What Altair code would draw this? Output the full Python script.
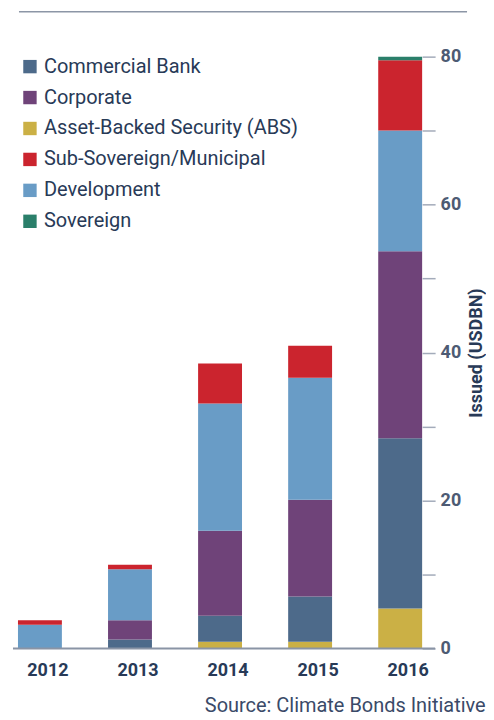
import altair as alt
import pandas as pd

years = ["2012", "2013", "2014", "2015", "2016"]
categories = ["Commercial Bank", "Corporate", "Asset-Backed Security (ABS)",
              "Sub-Sovereign/Municipal", "Development", "Sovereign"]
colors = ["#4d6a8a", "#6f4379", "#cbb045", "#cb242e", "#699cc6", "#2a7f6a"]
stack_order = ["Asset-Backed Security (ABS)", "Commercial Bank", "Corporate",
               "Development", "Sub-Sovereign/Municipal", "Sovereign"]

abs_values = [0.0, 0.0, 0.9, 0.9, 5.4]
commercial_bank = [0.0, 1.2, 3.5, 6.1, 23.0]
corporate = [0.0, 2.6, 11.5, 13.1, 25.3]
development = [3.2, 6.9, 17.2, 16.5, 16.3]
sub_sovereign = [0.6, 0.6, 5.4, 4.3, 9.5]
sovereign = [0.0, 0.0, 0.0, 0.0, 0.5]

series = {
    "Asset-Backed Security (ABS)": abs_values,
    "Commercial Bank": commercial_bank,
    "Corporate": corporate,
    "Development": development,
    "Sub-Sovereign/Municipal": sub_sovereign,
    "Sovereign": sovereign,
}

rows = []
for cat, vals in series.items():
    for yr, v in zip(years, vals):
        rows.append({"Year": yr, "Type": cat, "Value": v, "Order": stack_order.index(cat)})
df = pd.DataFrame(rows)

FONT = "Roboto"
W, H = 405, 593

bars = alt.Chart(df).mark_bar(stroke=None).encode(
    x=alt.X("Year:N", sort=years,
            scale=alt.Scale(paddingInner=0.5125, paddingOuter=0),
            axis=alt.Axis(title=None, domain=False, ticks=False, labelAngle=0,
                          labelFont=FONT, labelFontSize=18, labelFontWeight="bold",
                          labelColor="#283a57", labelPadding=13, labelOffset=8)),
    y=alt.Y("Value:Q", stack="zero",
            scale=alt.Scale(domain=[0, 80], nice=False),
            axis=alt.Axis(orient="right", title="Issued (USDBN)",
                          values=list(range(0, 81, 10)),
                          labelExpr="datum.value % 20 == 0 ? datum.label : ''",
                          domain=False, grid=False,
                          tickSize=13, tickColor="#a3abba", tickWidth=1.5,
                          labelFont=FONT, labelFontSize=18, labelFontWeight="bold",
                          labelColor="#4d5b73", labelPadding=5,
                          titleFont=FONT, titleFontSize=18, titleFontWeight="bold",
                          titleColor="#283a57", titleAngle=270, titlePadding=25)),
    color=alt.Color("Type:N",
                    scale=alt.Scale(domain=categories, range=colors),
                    legend=alt.Legend(title=None, orient="none", legendX=2, legendY=0,
                                      symbolType="square", symbolSize=180,
                                      symbolStrokeWidth=0, symbolOpacity=1,
                                      labelFont=FONT, labelFontSize=20,
                                      labelColor="#283a57", labelOffset=4,
                                      rowPadding=11, padding=0, labelLimit=400)),
    order=alt.Order("Order:Q"),
)

baseline = alt.Chart(pd.DataFrame({"v": [0]})).mark_rule(
    color="#8a94a5", strokeWidth=2, clip=False
).encode(y=alt.Y("v:Q"), x=alt.value(-5), x2=alt.value(418))

topline = alt.Chart(pd.DataFrame({"v": [0]})).mark_rule(
    color="#8c96a6", strokeWidth=1.5, clip=False
).encode(y=alt.value(-45), x=alt.value(1), x2=alt.value(450))

chart = alt.layer(bars, baseline, topline).properties(
    width=W, height=H,
    padding={"top": 2, "left": 4, "right": 0, "bottom": 0},
    title=alt.TitleParams("Source: Climate Bonds Initiative", orient="bottom",
                          anchor="end", frame="bounds", font=FONT, fontSize=20,
                          fontWeight="normal", color="#3a4a68", offset=17),
).configure_view(stroke=None)

chart.save("out.html", embed_options={"renderer": "svg", "actions": False})
